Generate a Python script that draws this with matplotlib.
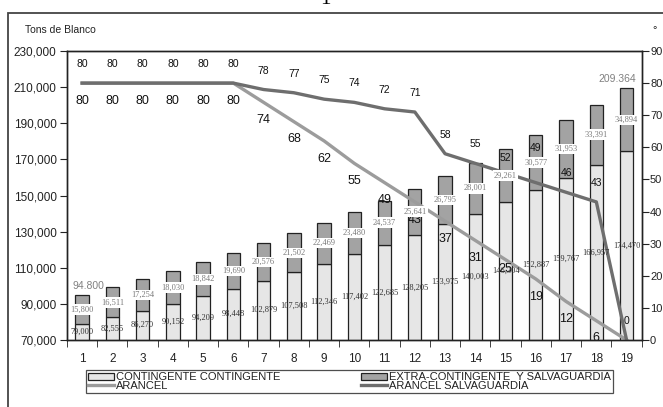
import numpy as np
import matplotlib.pyplot as plt
from matplotlib.patches import Rectangle
from matplotlib.ticker import FuncFormatter, MultipleLocator

plt.rcParams['font.family'] = ['Liberation Sans Narrow', 'Liberation Sans', 'DejaVu Sans']

# Datos por año del programa
anos = list(range(1, 20))
contingente = [79000, 82555, 86270, 90152, 94209, 98448, 102879, 107508, 112346, 117402,
               122685, 128205, 133975, 140003, 146304, 152887, 159767, 166957, 174470]
extra = [15800, 16511, 17254, 18030, 18842, 19690, 20576, 21502, 22469, 23480,
         24537, 25641, 26795, 28001, 29261, 30577, 31953, 33391, 34894]
arancel = [80, 80, 80, 80, 80, 80, 74, 68, 62, 55, 49, 43, 37, 31, 25, 19, 12, 6, 0]
arancel_salv = [80, 80, 80, 80, 80, 80, 78, 77, 75, 74, 72, 71, 58, 55, 52, 49, 46, 43, 0]
totales_marcados = [0, 18]

# colores
c_cont = '#e6e6e6'
c_extra = '#a3a3a3'
c_borde = '#222222'
c_arancel = '#9c9c9c'
c_salv = '#6e6e6e'

W, H = 663, 407
fig = plt.figure(figsize=(W / 100, H / 100), dpi=100)
ax = fig.add_axes([67 / W, 1 - 340 / H, (641.7 - 67) / W, (340 - 51) / H])
ax2 = ax.twinx()

b1 = ax.bar(anos, contingente, width=0.44, color=c_cont, edgecolor=c_borde, lw=0.9)
b2 = ax.bar(anos, extra, bottom=contingente, width=0.44, color=c_extra,
            edgecolor=c_borde, lw=0.9)

ax.set_xlim(0.5, 19.5)
ax.set_ylim(70000, 230000)
ax.set_yticks(np.arange(70000, 230001, 20000))
ax.yaxis.set_major_formatter(FuncFormatter(lambda v, p: f'{v:,.0f}'))
ax.set_xticks(anos)
ax.set_xticks(np.arange(0.5, 20, 1), minor=True)
ax.tick_params(axis='x', which='major', length=0, pad=9, labelsize=8.5, colors='#222')
ax.tick_params(axis='x', which='minor', length=5, direction='out', color=c_borde)
ax.tick_params(axis='y', length=5, direction='out', labelsize=8.5, colors='#222', pad=2.5)

l1, = ax2.plot(anos, arancel, color=c_arancel, lw=2.4)
l2, = ax2.plot(anos, arancel_salv, color=c_salv, lw=2.4)
ax2.set_ylim(0, 90)
ax2.yaxis.set_major_locator(MultipleLocator(10))
ax2.tick_params(axis='y', length=5, direction='out', labelsize=8, colors='#222', pad=1)

for a in (ax, ax2):
    for s in a.spines.values():
        s.set_color(c_borde)
        s.set_linewidth(1)

# etiquetas de los aranceles
ajuste_salv = {14: 4.6, 15: 10.7}
ajuste_ar = {14: -2.9}
for i, (x, v) in enumerate(zip(anos, arancel_salv)):
    ax2.text(x, v + ajuste_salv.get(i, 5.9), str(v), ha='center', va='center',
             fontsize=7.5, color='#111', clip_on=True)
for i, (x, v) in enumerate(zip(anos, arancel)):
    ax2.text(x, v + ajuste_ar.get(i, -5.5), str(v), ha='center', va='center',
             fontsize=9, color='#111', clip_on=True)

# etiquetas de las barras (encima de las líneas)
for x, c, e in zip(anos, contingente, extra):
    ax2.text(x, (70000 + c) / 2, f'{c:,}', transform=ax.transData, ha='center',
             va='center', fontsize=6, family='Liberation Serif', color='#333', zorder=5)
    ax2.text(x, c + e / 2, f'{e:,}', transform=ax.transData, ha='center',
             va='center', fontsize=6, family='Liberation Serif', color='#7a7a7a', zorder=5,
             bbox=dict(boxstyle='square,pad=0.15', fc='white', ec='none'))
desplaz_total = {0: 0.22, 18: -0.3}
for i in totales_marcados:
    tot = contingente[i] + extra[i]
    ax2.text(anos[i] + desplaz_total[i], tot + 5000, f'{tot:,}'.replace(',', '.'),
             transform=ax.transData, ha='center', va='center', fontsize=7.5,
             color='#808080', zorder=5)

fig.text(25 / W, 1 - 30 / H, 'Tons de Blanco', fontsize=7.5, color='#222', va='center')
fig.text(655 / W, 1 - 30 / H, '°', fontsize=8, color='#222', va='center', ha='center')
fig.text(0.49, 1.0, '1', fontsize=15, family='Liberation Serif', ha='center', va='center')

# marco exterior
fig.add_artist(Rectangle((8 / W, -0.1), 1.2, 1 - 13 / H + 0.1, transform=fig.transFigure,
                         fill=False, edgecolor='#444', lw=1.3))

leg = fig.legend([b1, l1, b2, l2],
                 ['CONTINGENTE CONTINGENTE', 'ARANCEL',
                  'EXTRA-CONTINGENTE  Y SALVAGUARDIA', 'ARANCEL SALVAGUARDIA'],
                 ncol=2, mode='expand', loc='lower left',
                 bbox_to_anchor=(86 / W, 1 - 393 / H, 527 / W, 26 / H),
                 bbox_transform=fig.transFigure, fontsize=8, frameon=True,
                 fancybox=False, edgecolor='#222', borderpad=0.2, labelspacing=-0.15,
                 handlelength=2.3, handleheight=0.5, handletextpad=0.2,
                 borderaxespad=0)
leg.get_frame().set_linewidth(0.9)
for t in leg.get_texts():
    t.set_color('#222')

fig.savefig('out.png', dpi=100)
